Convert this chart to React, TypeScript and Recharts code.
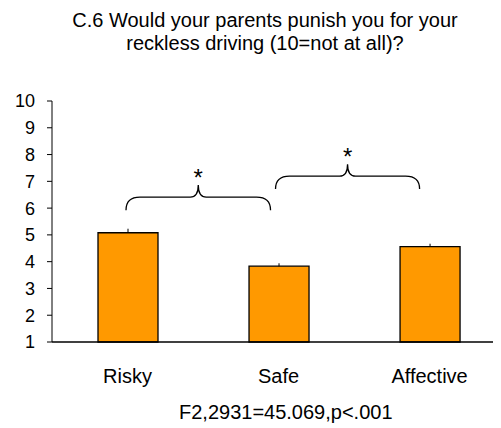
import { BarChart, Bar, XAxis, YAxis, ErrorBar, ReferenceArea } from "recharts";

// Survey question C.6, mean rating per group
const categories = ["Risky", "Safe", "Affective"];
const means = [5.08, 3.83, 4.56];
const upperErrors = [0.15, 0.11, 0.11];
const yTicks = [1, 2, 3, 4, 5, 6, 7, 8, 9, 10];

// significance braces: [fromX, toX, bottomY, peakY] in data units
const braceFrom = [-0.01, 0.98];
const braceTo = [0.947, 1.934];
const braceLow = [5.92, 6.71];
const braceHigh = [6.86, 7.64];

const FONT = '"Liberation Sans", Arial, sans-serif';

const table = categories.map((name, i) => ({
    pos: i,
    name,
    mean: means[i],
    err: [0, upperErrors[i]],
}));

function Brace(props: any) {
    const { x, y, width, height } = props;
    const bottom = y + height;
    const mid = y + height * 0.48;
    const cx = x + width / 2;
    const r = 14;
    const r2 = 8;
    const d = [
        `M${x},${bottom}`,
        `Q${x},${mid} ${x + r},${mid}`,
        `L${cx - r2},${mid}`,
        `Q${cx},${mid} ${cx},${y}`,
        `Q${cx},${mid} ${cx + r2},${mid}`,
        `L${x + width - r},${mid}`,
        `Q${x + width},${mid} ${x + width},${bottom}`,
    ].join(" ");
    return (
        <g>
            <path d={d} fill="none" stroke="#000" strokeWidth={1.3} />
            <text x={cx} y={y + 1} textAnchor="middle" fontSize={24} fontFamily={FONT} fill="#000">
                *
            </text>
        </g>
    );
}

export default function App() {
    return (
        <div style={{ position: "absolute", left: 0, top: 0, width: 501, height: 428, background: "#fff", fontFamily: FONT }}>
            <div style={{ position: "absolute", left: 30, width: 470, top: 9, textAlign: "center", fontSize: 20, lineHeight: "23px", color: "#000" }}>
                C.6 Would your parents punish you for your
                <br />
                reckless driving (10=not at all)?
            </div>
            <BarChart width={501} height={428} data={table} margin={{ top: 101, right: 8, left: 8, bottom: 56 }}>
                <XAxis
                    type="number"
                    dataKey="pos"
                    domain={[-0.5, 2.42]}
                    ticks={[0, 1, 2]}
                    tickFormatter={(v: number) => categories[v]}
                    allowDataOverflow
                    height={30}
                    tickLine={false}
                    tickSize={0}
                    tickMargin={27}
                    axisLine={{ stroke: "#000", strokeWidth: 1.5 }}
                    tick={{ fill: "#000", fontSize: 20, fontFamily: FONT }}
                />
                <YAxis
                    type="number"
                    domain={[1, 10]}
                    ticks={yTicks}
                    interval={0}
                    width={44}
                    tickSize={5}
                    tickMargin={12}
                    axisLine={{ stroke: "#000" }}
                    tickLine={{ stroke: "#000" }}
                    tick={{ fill: "#000", fontSize: 18, fontFamily: FONT }}
                />
                <Bar dataKey="mean" barSize={60} fill="#FF9900" stroke="#000" strokeWidth={1.3} isAnimationActive={false}>
                    <ErrorBar dataKey="err" width={0} stroke="#000" strokeWidth={1} direction="y" isAnimationActive={false} />
                </Bar>
                {braceFrom.map((x1, i) => (
                    <ReferenceArea
                        key={`brace-${i}`}
                        x1={x1}
                        x2={braceTo[i]}
                        y1={braceLow[i]}
                        y2={braceHigh[i]}
                        shape={<Brace />}
                        ifOverflow="visible"
                    />
                ))}
            </BarChart>
            <div style={{ position: "absolute", left: 179, width: 200, top: 401, textAlign: "center", fontSize: 20, color: "#000", whiteSpace: "nowrap" }}>
                F2,2931=45.069,p&lt;.001
            </div>
        </div>
    );
}
